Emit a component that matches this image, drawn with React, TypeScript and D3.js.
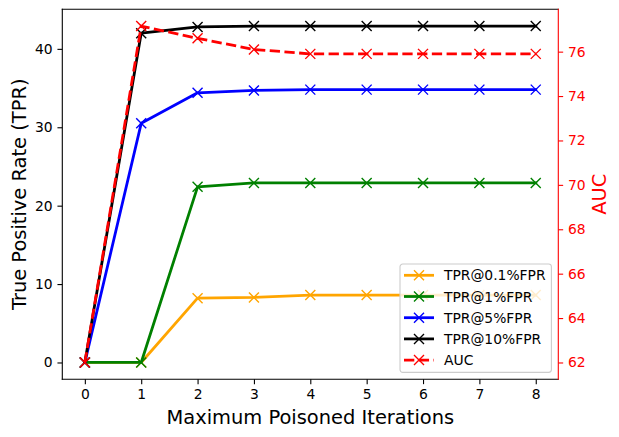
import { useEffect, useRef } from "react";
import * as d3 from "d3";

const iterations = [0, 1, 2, 3, 4, 5, 6, 7, 8];
const tpr01 = [0, 0, 8.2, 8.3, 8.6, 8.6, 8.6, 8.6, 8.6];
const tpr1 = [0, 0, 22.4, 22.9, 22.9, 22.9, 22.9, 22.9, 22.9];
const tpr5 = [0, 30.5, 34.4, 34.7, 34.8, 34.8, 34.8, 34.8, 34.8];
const tpr10 = [0, 42.0, 42.8, 42.9, 42.9, 42.9, 42.9, 42.9, 42.9];
const auc = [62, 77.15, 76.6, 76.1, 75.9, 75.9, 75.9, 75.9, 75.9];

const leftTicks = [0, 10, 20, 30, 40];
const rightTicks = [62, 64, 66, 68, 70, 72, 74, 76];

const tprSeries = [
  { name: "TPR@0.1%FPR", values: tpr01, color: "orange" },
  { name: "TPR@1%FPR", values: tpr1, color: "green" },
  { name: "TPR@5%FPR", values: tpr5, color: "blue" },
  { name: "TPR@10%FPR", values: tpr10, color: "black" },
];

const FONT = "DejaVu Sans, sans-serif";

export default function App() {
  const chartRef = useRef(null);

  useEffect(() => {
    const W = 619;
    const H = 437;
    const margin = { top: 9.3, right: 60.7, bottom: 57.7, left: 62.3 };
    const width = W - margin.left - margin.right;
    const height = H - margin.top - margin.bottom;

    const root = d3.select(chartRef.current);
    root.selectAll("*").remove();
    root.attr("width", W).attr("height", H);

    const svg = root
      .append("g")
      .attr("transform", `translate(${margin.left},${margin.top})`);

    // matplotlib-like 5% margins
    const pad = (lo: number, hi: number) => {
      const r = hi - lo;
      return [lo - 0.05 * r, hi + 0.05 * r];
    };

    const xScale = d3
      .scaleLinear()
      .domain(pad(d3.min(iterations)!, d3.max(iterations)!))
      .range([0, width]);

    const allTpr = tprSeries.flatMap((s) => s.values);
    const yLeft = d3
      .scaleLinear()
      .domain(pad(d3.min(allTpr)!, d3.max(allTpr)!))
      .range([height, 0]);

    const yRight = d3
      .scaleLinear()
      .domain(pad(d3.min(auc)!, d3.max(auc)!))
      .range([height, 0]);

    const lw = 2.78;
    const ms = 5;

    const drawMarkers = (
      g: d3.Selection<SVGGElement, unknown, null, undefined>,
      pts: [number, number][],
      color: string
    ) => {
      g.selectAll(null)
        .data(pts)
        .enter()
        .append("path")
        .attr(
          "d",
          ([x, y]) =>
            `M${x - ms},${y - ms}L${x + ms},${y + ms}M${x - ms},${y + ms}L${x + ms},${y - ms}`
        )
        .attr("stroke", color)
        .attr("stroke-width", 1.4)
        .attr("fill", "none");
    };

    const plot = svg.append("g");

    // TPR lines (left axis)
    tprSeries.forEach((s) => {
      const pts: [number, number][] = iterations.map((it, i) => [
        xScale(it),
        yLeft(s.values[i]),
      ]);
      plot
        .append("path")
        .attr("d", d3.line()(pts))
        .attr("fill", "none")
        .attr("stroke", s.color)
        .attr("stroke-width", lw)
        .attr("stroke-linejoin", "round")
        .attr("stroke-linecap", "square");
      drawMarkers(plot, pts, s.color);
    });

    // AUC line (right axis)
    const aucPts: [number, number][] = iterations.map((it, i) => [
      xScale(it),
      yRight(auc[i]),
    ]);
    plot
      .append("path")
      .attr("d", d3.line()(aucPts))
      .attr("fill", "none")
      .attr("stroke", "red")
      .attr("stroke-width", lw)
      .attr("stroke-dasharray", "10.3,4.45");
    drawMarkers(plot, aucPts, "red");

    // Axes
    const tickSize = 4.86;
    const styleAxis = (
      g: d3.Selection<SVGGElement, unknown, null, undefined>,
      color: string
    ) => {
      g.select(".domain").remove();
      g.selectAll(".tick line").attr("stroke", color).attr("stroke-width", 1.1);
      g.selectAll(".tick text")
        .attr("fill", color)
        .attr("font-family", FONT)
        .attr("font-size", 13.89);
    };

    const xAxis = svg
      .append("g")
      .attr("transform", `translate(0, ${height})`)
      .call(
        d3
          .axisBottom(xScale)
          .tickValues(iterations)
          .tickFormat(d3.format("d"))
          .tickSize(tickSize)
          .tickPadding(4.86)
      );
    styleAxis(xAxis, "black");

    const leftAxis = svg
      .append("g")
      .call(
        d3
          .axisLeft(yLeft)
          .tickValues(leftTicks)
          .tickFormat(d3.format("d"))
          .tickSize(tickSize)
          .tickPadding(4.86)
      );
    styleAxis(leftAxis, "black");

    const rightAxis = svg
      .append("g")
      .attr("transform", `translate(${width}, 0)`)
      .call(
        d3
          .axisRight(yRight)
          .tickValues(rightTicks)
          .tickFormat(d3.format("d"))
          .tickSize(tickSize)
          .tickPadding(4.86)
      );
    styleAxis(rightAxis, "red");

    // Spines
    const spine = (x1: number, y1: number, x2: number, y2: number, c: string) =>
      svg
        .append("line")
        .attr("x1", x1)
        .attr("y1", y1)
        .attr("x2", x2)
        .attr("y2", y2)
        .attr("stroke", c)
        .attr("stroke-width", 1.1)
        .attr("stroke-linecap", "square");
    spine(0, 0, 0, height, "black");
    spine(0, height, width, height, "black");
    spine(0, 0, width, 0, "black");
    spine(width, 0, width, height, "red");

    // Axis labels
    svg
      .append("text")
      .attr("x", width / 2)
      .attr("y", height + 38)
      .attr("text-anchor", "middle")
      .attr("dominant-baseline", "central")
      .attr("font-family", FONT)
      .attr("font-size", 19.44)
      .text("Maximum Poisoned Iterations");

    svg
      .append("text")
      .attr("transform", `translate(${19.5 - margin.left}, ${height / 2}) rotate(-90)`)
      .attr("text-anchor", "middle")
      .attr("dominant-baseline", "central")
      .attr("font-family", FONT)
      .attr("font-size", 19.44)
      .text("True Positive Rate (TPR)");

    svg
      .append("text")
      .attr("transform", `translate(${599 - margin.left}, ${height / 2}) rotate(-90)`)
      .attr("text-anchor", "middle")
      .attr("dominant-baseline", "central")
      .attr("font-family", FONT)
      .attr("font-size", 19.44)
      .attr("fill", "red")
      .text("AUC");

    // Legend
    const legendItems = [
      ...tprSeries.map((s) => ({ name: s.name, color: s.color, dash: null as string | null })),
      { name: "AUC", color: "red", dash: "10.3,4.45" },
    ];
    const lgX = 400 - margin.left;
    const lgY = 264 - margin.top;
    const legend = svg.append("g").attr("transform", `translate(${lgX},${lgY})`);
    legend
      .append("rect")
      .attr("width", 151.4)
      .attr("height", 108.4)
      .attr("rx", 2.8)
      .attr("fill", "white")
      .attr("fill-opacity", 0.8)
      .attr("stroke", "#cccccc")
      .attr("stroke-width", 1.1);

    const rows = legend
      .selectAll(null)
      .data(legendItems)
      .enter()
      .append("g")
      .attr("transform", (d, i) => `translate(0, ${11.3 + i * 21.2})`);

    rows
      .append("line")
      .attr("x1", 4)
      .attr("x2", 34)
      .attr("stroke", (d) => d.color)
      .attr("stroke-width", lw)
      .attr("stroke-dasharray", (d) => d.dash);
    rows
      .append("path")
      .attr("d", `M${19 - ms},${-ms}L${19 + ms},${ms}M${19 - ms},${ms}L${19 + ms},${-ms}`)
      .attr("stroke", (d) => d.color)
      .attr("stroke-width", 1.4);
    rows
      .append("text")
      .attr("x", 44)
      .attr("dominant-baseline", "central")
      .attr("font-family", FONT)
      .attr("font-size", 13.89)
      .text((d) => d.name);
  }, []);

  return (
    <svg
      ref={chartRef}
      style={{ position: "absolute", left: 0, top: 0, background: "white" }}
    />
  );
}
